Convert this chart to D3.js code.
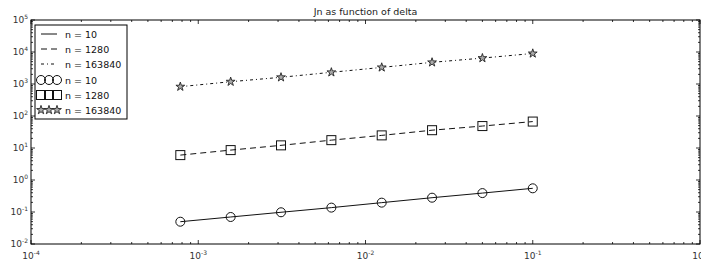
<!DOCTYPE html>
<html>
<head>
<meta charset="UTF-8" />
<title>Jn as function of delta</title>
<style>
    body, html { margin: 0; padding: 0; background: #fff; overflow: hidden; }
    svg { display: block; font-family: "DejaVu Sans", sans-serif; }
    .tick-label { font-size: 9px; fill: #333; }
    .tick-label tspan.exp { font-size: 6px; }
</style>
</head>
<body>
<svg width="701" height="265"></svg>
<script src="https://d3js.org/d3.v7.min.js"></script>
<script>
    // delta values (1/1280 doubling up to 0.1)
    const delta = [0.00078125, 0.0015625, 0.003125, 0.00625, 0.0125, 0.025, 0.05, 0.1];
    const jn10 = [0.0497, 0.0698, 0.098, 0.137, 0.196, 0.28, 0.39, 0.55];
    const jn1280 = [6.0, 8.6, 12.1, 17.6, 24.8, 36.0, 48.5, 67.0];
    const jn163840 = [825, 1180, 1620, 2320, 3300, 4750, 6450, 9000];
    const seriesNames = ["n = 10", "n = 1280", "n = 163840"];
    const xMajor = [-4, -3, -2, -1, 0];
    const yMajor = [-2, -1, 0, 1, 2, 3, 4, 5];

    const svg = d3.select("svg");
    const plotLeft = 31, plotRight = 700, plotTop = 20, plotBottom = 244;

    const x = d3.scaleLog().domain([1e-4, 1]).range([plotLeft, plotRight]);
    const y = d3.scaleLog().domain([1e-2, 1e5]).range([plotBottom, plotTop]);

    // minor tick values
    const xMinor = [], yMinor = [];
    xMajor.slice(0, -1).forEach(e => { for (let k = 2; k <= 9; k++) xMinor.push(k * Math.pow(10, e)); });
    yMajor.slice(0, -1).forEach(e => { for (let k = 2; k <= 9; k++) yMinor.push(k * Math.pow(10, e)); });

    const ticks = svg.append("g").attr("stroke", "#000").attr("stroke-width", 0.8);
    // x ticks, inward on bottom and top
    xMajor.forEach(e => {
        const px = x(Math.pow(10, e));
        ticks.append("line").attr("x1", px).attr("x2", px).attr("y1", plotBottom).attr("y2", plotBottom - 4);
        ticks.append("line").attr("x1", px).attr("x2", px).attr("y1", plotTop).attr("y2", plotTop + 4);
    });
    xMinor.forEach(v => {
        const px = x(v);
        ticks.append("line").attr("x1", px).attr("x2", px).attr("y1", plotBottom).attr("y2", plotBottom - 2);
        ticks.append("line").attr("x1", px).attr("x2", px).attr("y1", plotTop).attr("y2", plotTop + 2);
    });
    // y ticks, inward on left and right
    yMajor.forEach(e => {
        const py = y(Math.pow(10, e));
        ticks.append("line").attr("y1", py).attr("y2", py).attr("x1", plotLeft).attr("x2", plotLeft + 4);
        ticks.append("line").attr("y1", py).attr("y2", py).attr("x1", plotRight).attr("x2", plotRight - 4);
    });
    yMinor.forEach(v => {
        const py = y(v);
        ticks.append("line").attr("y1", py).attr("y2", py).attr("x1", plotLeft).attr("x2", plotLeft + 2);
        ticks.append("line").attr("y1", py).attr("y2", py).attr("x1", plotRight).attr("x2", plotRight - 2);
    });

    // frame
    svg.append("rect")
        .attr("x", plotLeft).attr("y", plotTop)
        .attr("width", plotRight - plotLeft).attr("height", plotBottom - plotTop)
        .attr("fill", "none").attr("stroke", "#000").attr("stroke-width", 1);

    // tick labels
    xMajor.forEach(e => {
        const t = svg.append("text").attr("class", "tick-label")
            .attr("x", x(Math.pow(10, e))).attr("y", plotBottom + 15)
            .attr("text-anchor", "middle");
        t.append("tspan").text("10");
        t.append("tspan").attr("class", "exp").attr("dy", -4).text(e);
    });
    yMajor.forEach(e => {
        const t = svg.append("text").attr("class", "tick-label")
            .attr("x", plotLeft - 3).attr("y", y(Math.pow(10, e)) + 3)
            .attr("text-anchor", "end");
        t.append("tspan").text("10");
        t.append("tspan").attr("class", "exp").attr("dy", -4).text(e);
    });

    // title
    svg.append("text")
        .attr("x", (plotLeft + plotRight) / 2).attr("y", 15)
        .attr("text-anchor", "middle")
        .attr("font-size", 9.5).attr("fill", "#222")
        .text("Jn as function of delta");

    const dashes = [null, "6,4", "3,3,1,3"];
    const allSeries = [jn10, jn1280, jn163840];

    const line = d3.line().x(d => x(d[0])).y(d => y(d[1]));
    const plot = svg.append("g");

    allSeries.forEach((vals, i) => {
        plot.append("path")
            .datum(delta.map((d, j) => [d, vals[j]]))
            .attr("d", line)
            .attr("fill", "none")
            .attr("stroke", "#111")
            .attr("stroke-width", 1)
            .attr("stroke-dasharray", dashes[i]);
    });

    function marker(g, kind, cx, cy) {
        if (kind === 0) {
            g.append("circle").attr("cx", cx).attr("cy", cy).attr("r", 4.5)
                .attr("fill", "none").attr("stroke", "#111").attr("stroke-width", 1);
        } else if (kind === 1) {
            g.append("rect").attr("x", cx - 4.5).attr("y", cy - 4.5).attr("width", 9).attr("height", 9)
                .attr("fill", "none").attr("stroke", "#111").attr("stroke-width", 1);
        } else {
            g.append("path")
                .attr("transform", `translate(${cx},${cy})`)
                .attr("d", d3.symbol().type(d3.symbolStar).size(24)())
                .attr("fill", "#aaa").attr("stroke", "#222").attr("stroke-width", 0.9);
        }
    }

    allSeries.forEach((vals, i) => {
        delta.forEach((d, j) => marker(plot, i, x(d), y(vals[j])));
    });

    // legend
    const lg = svg.append("g");
    lg.append("rect").attr("x", 35).attr("y", 25).attr("width", 92).attr("height", 94)
        .attr("fill", "#fff").attr("stroke", "#000").attr("stroke-width", 1);
    const rowY = [34, 49, 64, 80, 95, 110];
    seriesNames.forEach((name, i) => {
        lg.append("line").attr("x1", 41).attr("x2", 57).attr("y1", rowY[i]).attr("y2", rowY[i])
            .attr("stroke", "#111").attr("stroke-width", 1).attr("stroke-dasharray", dashes[i]);
        lg.append("text").attr("x", 65).attr("y", rowY[i] + 3.5).attr("font-size", 9.5).attr("fill", "#111").text(name);
    });
    seriesNames.forEach((name, i) => {
        const ry = rowY[i + 3];
        [41, 49, 57].forEach(mx => marker(lg, i, mx, ry));
        lg.append("text").attr("x", 65).attr("y", ry + 3.5).attr("font-size", 9.5).attr("fill", "#111").text(name);
    });
</script>
</body>
</html>
